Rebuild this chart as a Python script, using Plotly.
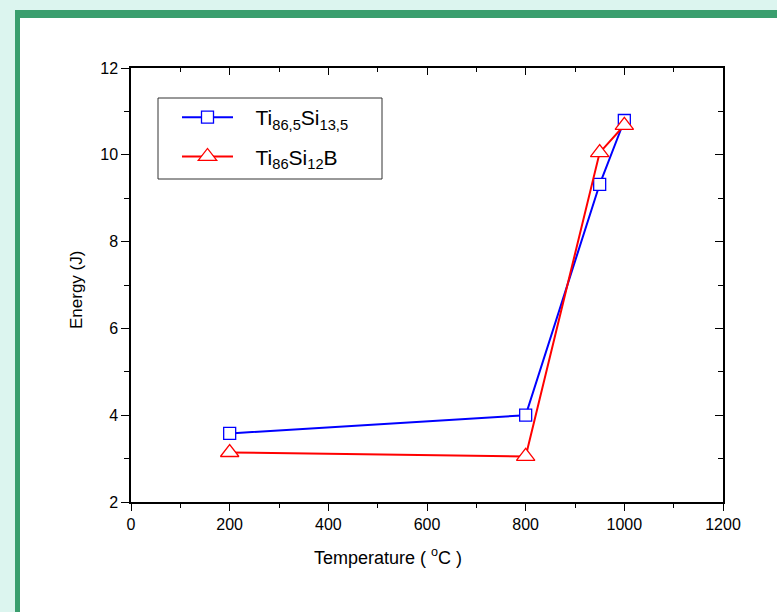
import plotly.graph_objects as go

temp_a = [200, 800, 950, 1000]
energy_a = [3.58, 4.0, 9.32, 10.79]
temp_b = [200, 800, 950, 1000]
energy_b = [3.14, 3.05, 10.05, 10.68]
name_a = "\u00a0\u00a0\u00a0Ti<sub>86,5</sub>Si<sub>13,5</sub>"
name_b = "\u00a0\u00a0\u00a0Ti<sub>86</sub>Si<sub>12</sub>B"
x_ticks = [0, 200, 400, 600, 800, 1000, 1200]
y_ticks = [2, 4, 6, 8, 10, 12]

W, H = 777, 612
L, R, T, B = 131, 723, 68, 502
pw, ph = R - L, B - T

def px(x):
    return (x - L) / pw

def py(y):
    return (B - y) / ph

FONT = "Liberation Sans, Arial, sans-serif"

fig = go.Figure()
fig.add_trace(go.Scatter(
    x=temp_a, y=energy_a, name=name_a, mode="lines+markers", legendgroup="a",
    line=dict(color="#0000ff", width=2),
    marker=dict(symbol="square", size=12, color="white",
                line=dict(color="#0000ff", width=1.3)),
))
fig.add_trace(go.Scatter(
    x=temp_b, y=energy_b, name=name_b, mode="lines+markers", legendgroup="b",
    line=dict(color="#ff0000", width=2),
    marker=dict(symbol="triangle-up", size=16, color="white",
                line=dict(color="#ff0000", width=1.3)),
))

axis_common = dict(showgrid=False, zeroline=False, showline=True,
                   linecolor="black", linewidth=1.5,
                   tickcolor="black", tickwidth=1.3,
                   tickfont=dict(family=FONT, size=16, color="black"))

fig.update_layout(
    width=W, height=H,
    margin=dict(l=L, r=W - R, t=T, b=H - B),
    paper_bgcolor="#dcf5ef", plot_bgcolor="white",
    font=dict(family=FONT, color="black"),
    showlegend=True,
    legend=dict(x=px(177), y=py(97), xanchor="left", yanchor="top",
                bgcolor="rgba(0,0,0,0)", borderwidth=0,
                font=dict(family=FONT, size=21, color="black"),
                itemwidth=51, tracegroupgap=9),
    xaxis=dict(range=[0, 1200], tickvals=x_ticks, ticks="outside", ticklen=7,
               minor=dict(dtick=100, ticks="outside", ticklen=4, tickcolor="black", tickwidth=1.2),
               **axis_common),
    yaxis=dict(range=[2, 12], tickvals=y_ticks, ticks="outside", ticklen=8,
               minor=dict(dtick=1, ticks="outside", ticklen=5, tickcolor="black", tickwidth=1.2),
               **axis_common),
    xaxis2=dict(range=[0, 1200], overlaying="x", side="top", showticklabels=False,
                tickvals=x_ticks, ticks="inside", ticklen=7,
                minor=dict(dtick=100, ticks="inside", ticklen=4, tickcolor="black", tickwidth=1.2),
                **axis_common),
    yaxis2=dict(range=[2, 12], overlaying="y", side="right", showticklabels=False,
                tickvals=y_ticks, ticks="inside", ticklen=8,
                minor=dict(dtick=1, ticks="inside", ticklen=5, tickcolor="black", tickwidth=1.2),
                **axis_common),
)

# dummy trace to activate the mirrored axes
fig.add_trace(go.Scatter(x=[None], y=[None], xaxis="x2", yaxis="y2",
                         showlegend=False, hoverinfo="skip"))

shapes = [
    dict(type="rect", xref="paper", yref="paper", layer="below",
         x0=px(15), x1=px(W + 20), y0=py(10), y1=py(H + 20),
         fillcolor="white", line=dict(width=0)),
    dict(type="rect", xref="paper", yref="paper", layer="below",
         x0=px(15), x1=px(20), y0=py(10), y1=py(H + 20),
         fillcolor="#3a9e6e", line=dict(width=0)),
    dict(type="rect", xref="paper", yref="paper", layer="below",
         x0=px(15), x1=px(W + 20), y0=py(10), y1=py(18),
         fillcolor="#3a9e6e", line=dict(width=0)),
    # legend frame
    dict(type="rect", xref="paper", yref="paper", layer="above",
         x0=px(158), x1=px(382), y0=py(98), y1=py(179),
         fillcolor="rgba(0,0,0,0)", line=dict(color="#333333", width=1)),
]
fig.update_layout(shapes=shapes)

fig.add_annotation(x=px(388), y=py(556), xref="paper", yref="paper",
                   text="Temperature ( <sup>o</sup>C )", showarrow=False,
                   font=dict(family=FONT, size=18, color="black"),
                   xanchor="center", yanchor="middle")
fig.add_annotation(x=px(76), y=py(290), xref="paper", yref="paper",
                   text="Energy (J)", showarrow=False, textangle=-90,
                   font=dict(family=FONT, size=17, color="black"),
                   xanchor="center", yanchor="middle")

fig.write_html("out.html")
